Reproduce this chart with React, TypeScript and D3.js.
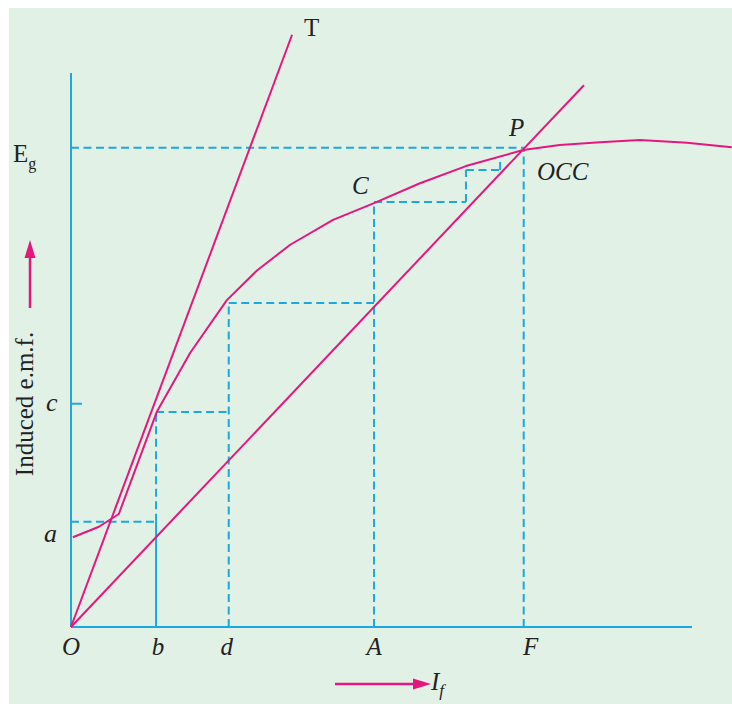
import React from "react";
import * as d3 from "d3";

// Field current (x) and induced emf (y) in arbitrary units 0..100
const occX = [0.3, 4.5, 7.7, 13.8, 19.2, 25.1, 30.0, 35.3, 42.2, 48.8, 56.2, 63.6, 72.8, 78.7, 85.2, 91.6, 99.2, 106.4];
const occY = [16.2, 18.1, 20.4, 38.8, 49.5, 59.0, 64.4, 69.0, 73.5, 76.5, 80.1, 83.2, 86.1, 87.0, 87.5, 87.9, 87.4, 86.6];

const tangentEnd = [35.6, 106.9];
const fieldLineEnd = [82.6, 97.8];

// staircase levels
const stepXs = [13.7, 25.4, 48.8, 63.6, 69.1, 72.9]; // b, d, A, -, -, F
const stepYs = [19.0, 38.8, 58.5, 76.7, 82.5, 84.3];
const egLevel = 86.5;
const cLevel = 40.3;
const aLevel = 16.2;

const xLabels = ["O", "b", "d", "A", "F"];
const xLabelVals = [0, 13.7, 25.4, 48.8, 72.9];

const BLUE = "#1ba8df";
const MAG = "#e5177e";
const BG = "#e2f1e6";

export default function App() {
  const x = d3.scaleLinear().domain([0, 100]).range([71, 692]);
  const y = d3.scaleLinear().domain([0, 100]).range([627, 73]);

  const occPts: [number, number][] = occX.map((v, i) => [v, occY[i]]);
  const line = d3.line<[number, number]>().x((d) => x(d[0])).y((d) => y(d[1])).curve(d3.curveLinear);

  const [b, dd, A, s4, s5, F] = stepXs;
  const [y1, y2, y3, y4, y5, y6] = stepYs;
  const dashed: number[][] = [
    [0, y1, b, y1],
    [b, y1, b, y2],
    [b, y2, dd, y2],
    [dd, 0, dd, y3],
    [dd, y3, A, y3],
    [A, 0, A, y4],
    [A, y4, s4, y4],
    [s4, y4, s4, y5],
    [s4, y5, s5, y5],
    [s5, y5, s5, y6],
    [0, egLevel, F, egLevel],
    [F, 0, F, egLevel],
  ];

  const serif = "'Liberation Serif', 'Times New Roman', serif";
  const xLabelDx = [0, 2, -2, 0, 7];

  return (
    <svg width={732} height={704} style={{ position: "absolute", left: 0, top: 0 }}>
      <rect x={9} y={8} width={723} height={696} fill={BG} />
      {dashed.map((s, i) => (
        <line key={i} x1={x(s[0])} y1={y(s[1])} x2={x(s[2])} y2={y(s[3])}
          stroke={BLUE} strokeWidth={2} strokeDasharray="8,4.5" />
      ))}
      <line x1={x(b)} y1={y(0)} x2={x(b)} y2={y(y1)} stroke={BLUE} strokeWidth={2} />
      <line x1={x(0)} y1={y(0)} x2={x(0)} y2={y(100)} stroke={BLUE} strokeWidth={2} />
      <line x1={x(0)} y1={y(0)} x2={x(100)} y2={y(0)} stroke={BLUE} strokeWidth={2} />
      <line x1={x(0)} y1={y(cLevel)} x2={x(0) + 11} y2={y(cLevel)} stroke={BLUE} strokeWidth={2} />
      <path d={line(occPts) || ""} fill="none" stroke={MAG} strokeWidth={2} strokeLinejoin="round" />
      <line x1={x(0)} y1={y(0)} x2={x(tangentEnd[0])} y2={y(tangentEnd[1])} stroke={MAG} strokeWidth={2} />
      <line x1={x(0)} y1={y(0)} x2={x(fieldLineEnd[0])} y2={y(fieldLineEnd[1])} stroke={MAG} strokeWidth={2} />

      <text x={304} y={36} fontFamily={serif} fontSize={25} fill="#222">T</text>
      <text x={509} y={136} fontFamily={serif} fontSize={25} fontStyle="italic" fill="#222">P</text>
      <text x={352} y={194} fontFamily={serif} fontSize={25} fontStyle="italic" fill="#222">C</text>
      <text x={537} y={180} fontFamily={serif} fontSize={25} fontStyle="italic" fill="#222">OCC</text>
      <text x={13} y={162} fontFamily={serif} fontSize={25} fill="#222">
        E<tspan fontSize={16} dy={7}>g</tspan>
      </text>
      <text x={46} y={y(cLevel) + 7} fontFamily={serif} fontSize={26} fontStyle="italic" fill="#222">c</text>
      <text x={44} y={y(aLevel) + 5} fontFamily={serif} fontSize={26} fontStyle="italic" fill="#222">a</text>
      {xLabels.map((t, i) => (
        <text key={t} x={x(xLabelVals[i]) + xLabelDx[i]} y={655} textAnchor="middle"
          fontFamily={serif} fontSize={25} fontStyle="italic" fill="#222">{t}</text>
      ))}
      <text transform="translate(33,404) rotate(-90)" textAnchor="middle" fontFamily={serif} fontSize={25} fill="#222">
        Induced e.m.f.
      </text>
      <line x1={30} y1={308} x2={30} y2={255} stroke={MAG} strokeWidth={2.5} />
      <polygon points="30,240 24.5,258 35.5,258" fill={MAG} />
      <line x1={335} y1={684} x2={416} y2={684} stroke={MAG} strokeWidth={2.5} />
      <polygon points="431,684 413,678.5 413,689.5" fill={MAG} />
      <text x={431} y={690} fontFamily={serif} fontSize={25} fontStyle="italic" fill="#222">
        I<tspan fontSize={17} dy={6}>f</tspan>
      </text>
    </svg>
  );
}
